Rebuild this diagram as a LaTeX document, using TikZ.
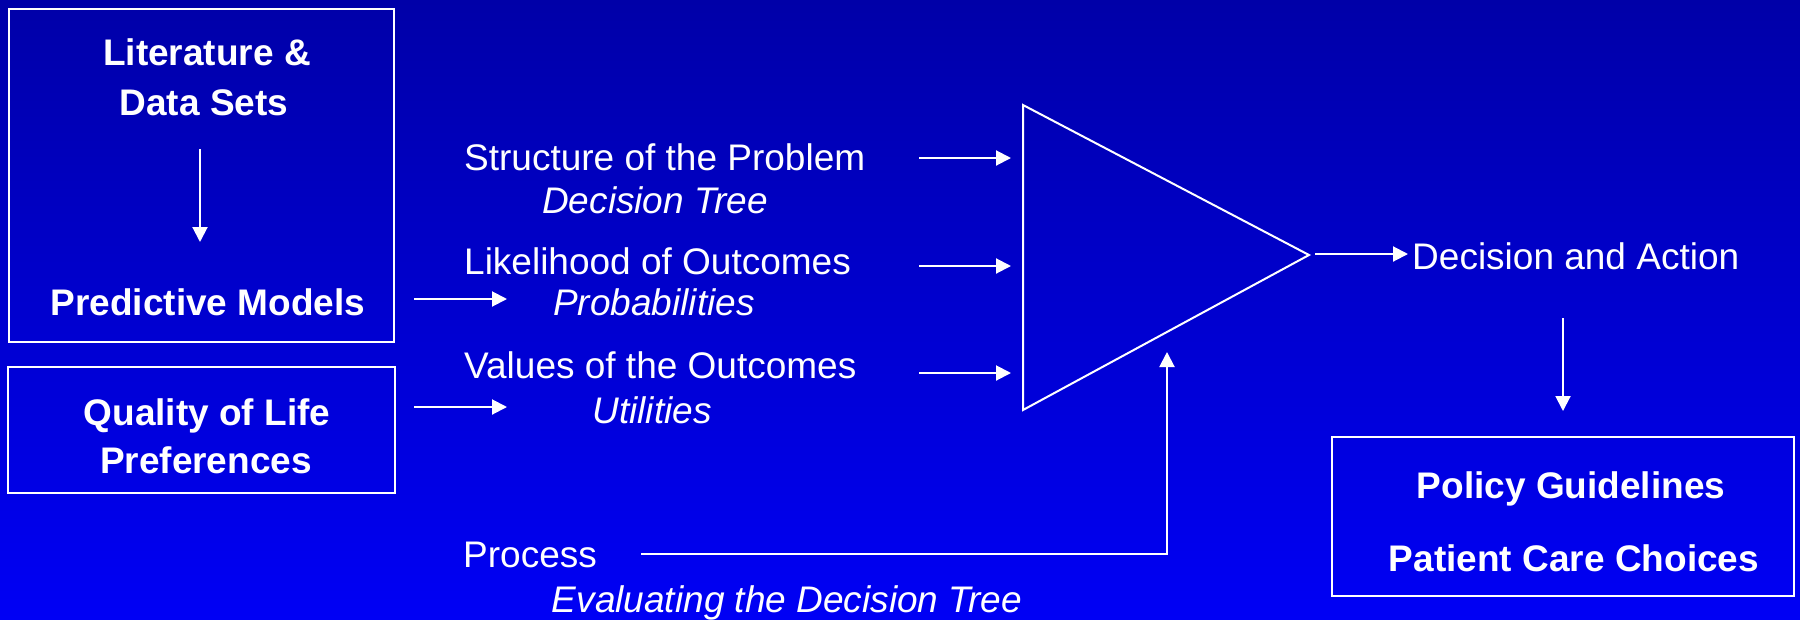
\documentclass[tikz,border=0pt]{standalone}
\usepackage{fontspec}
\setmainfont{Liberation Sans}
\usetikzlibrary{arrows.meta}
\definecolor{bgtop}{RGB}{0,0,168}
\definecolor{bgbot}{RGB}{0,0,245}
\begin{document}
\begin{tikzpicture}[x=1pt,y=-1pt,
  lbl/.style={text=white,inner sep=0pt,font=\fontsize{37pt}{44pt}\selectfont},
  blbl/.style={text=white,inner sep=0pt,font=\fontsize{37pt}{44pt}\selectfont\bfseries},
  ilbl/.style={lbl,font=\fontsize{37pt}{44pt}\selectfont\itshape},
  frame/.style={draw=white,line width=2pt,inner sep=0pt},
  arr/.style={draw=white,line width=2pt,-{Triangle[length=15pt,width=15pt]}},
  wire/.style={draw=white,line width=2pt}]
% background
\shade[top color=bgtop,bottom color=bgbot] (0,0) rectangle (1800,619);
\useasboundingbox (0,0) rectangle (1800,619);

% left boxes
\node[frame,minimum width=385pt,minimum height=333pt] (lit) at (201.5,175.5) {};
\node[frame,minimum width=387pt,minimum height=126pt] (qol) at (201.5,430) {};
\node[blbl,anchor=base] (litA) at (207,65) {Literature \&};
\node[blbl,anchor=base] (litB) at (204,115) {Data Sets};
\node[blbl,anchor=base] (pred) at (208,315) {Predictive Models};
\node[blbl,anchor=base] (qolA) at (207,425) {Quality of Life};
\node[blbl,anchor=base] (qolB) at (206,473) {Preferences};
\coordinate (litTop) at (200,149);
\coordinate (litBot) at (200,242);
\draw[arr] (litTop) -- (litBot);

% inputs
\node[lbl,anchor=base west] (struct) at (464,170) {Structure of the Problem};
\node[ilbl,anchor=base] (tree) at (655,213) {Decision Tree};
\node[lbl,anchor=base west] (like) at (464,274) {Likelihood of Outcomes};
\node[ilbl,anchor=base] (prob) at (654,315) {Probabilities};
\node[lbl,anchor=base west] (vals) at (464,378) {Values of the Outcomes};
\node[ilbl,anchor=base] (util) at (652,423) {Utilities};
\node[lbl,anchor=base west] (proc) at (463,567) {Process};
\node[ilbl,anchor=base] (evalt) at (787,612) {Evaluating the Decision Tree};

\coordinate (pA) at (414,299); \coordinate (pB) at (507,299);
\coordinate (uA) at (414,407); \coordinate (uB) at (507,407);
\draw[arr] (pA) -- (pB);
\draw[arr] (uA) -- (uB);

\coordinate (sA) at (919,158); \coordinate (sB) at (1011,158);
\coordinate (lA) at (919,266); \coordinate (lB) at (1011,266);
\coordinate (vA) at (919,373); \coordinate (vB) at (1011,373);
\draw[arr] (sA) -- (sB);
\draw[arr] (lA) -- (lB);
\draw[arr] (vA) -- (vB);

% decision triangle
\coordinate (triTop) at (1023,105);
\coordinate (triApex) at (1309,255);
\coordinate (triBot) at (1023,410);
\draw[wire,line join=miter] (triTop) -- (triApex) -- (triBot) -- cycle;

% process feed
\coordinate (procA) at (641,554);
\coordinate (procC) at (1167,554);
\coordinate (procB) at (1167,352);
\draw[arr] (procA) -- (procC) -- (procB);

% output
\node[lbl,anchor=base west] (act) at (1412,269) {Decision and Action};
\coordinate (outA) at (1315,254);
\coordinate (outB) at (1408,254);
\draw[arr] (outA) -- (outB);
\coordinate (dnA) at (1563,318);
\coordinate (dnB) at (1563,411);
\draw[arr] (dnA) -- (dnB);

\node[frame,minimum width=462pt,minimum height=159pt] (pol) at (1563,516.5) {};
\node[blbl,anchor=base] (polA) at (1571,498) {Policy Guidelines};
\node[blbl,anchor=base] (polB) at (1574,571) {Patient Care Choices};
\end{tikzpicture}
\end{document}
